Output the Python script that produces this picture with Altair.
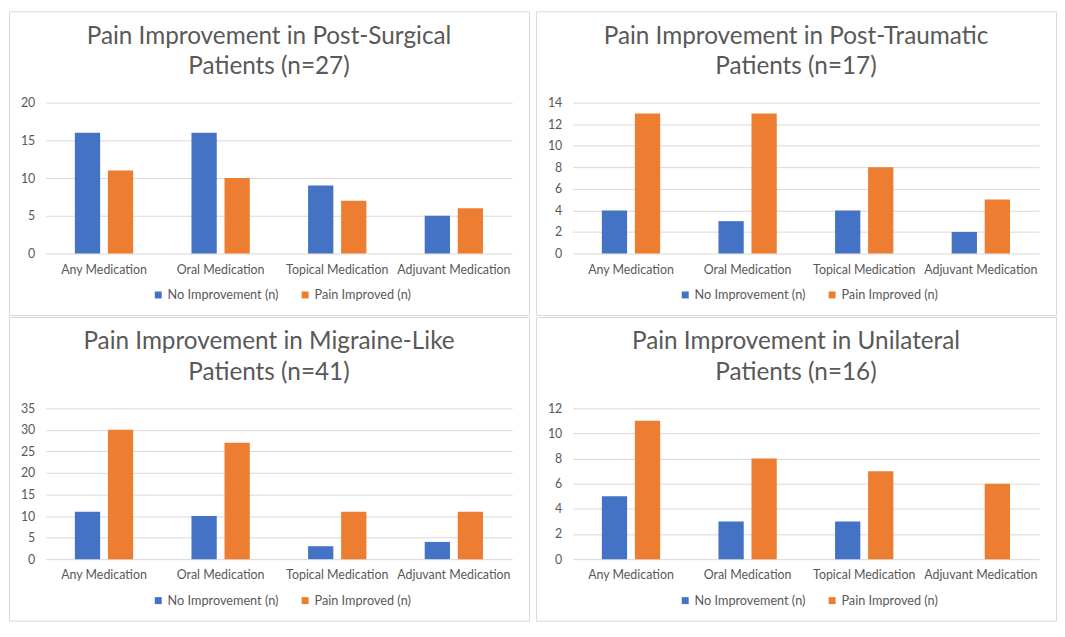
import altair as alt
import pandas as pd

# ---- data ----
categories = ["Any Medication", "Oral Medication", "Topical Medication", "Adjuvant Medication"]
series_names = ["No Improvement (n)", "Pain Improved (n)"]

title_surgical = ["Pain Improvement in Post-Surgical", "Patients (n=27)"]
title_traumatic = ["Pain Improvement in Post-Traumatic", "Patients (n=17)"]
title_migraine = ["Pain Improvement in Migraine-Like", "Patients (n=41)"]
title_unilateral = ["Pain Improvement in Unilateral", "Patients (n=16)"]

surgical_no = [16, 16, 9, 5]
surgical_yes = [11, 10, 7, 6]
traumatic_no = [4, 3, 4, 2]
traumatic_yes = [13, 13, 8, 5]
migraine_no = [11, 10, 3, 4]
migraine_yes = [30, 27, 11, 11]
unilateral_no = [5, 3, 3, 0]
unilateral_yes = [11, 8, 7, 6]

ticks_surgical = [0, 5, 10, 15, 20]
ticks_traumatic = [0, 2, 4, 6, 8, 10, 12, 14]
ticks_migraine = [0, 5, 10, 15, 20, 25, 30, 35]
ticks_unilateral = [0, 2, 4, 6, 8, 10, 12]

# ---- style / layout ----
BLUE = "#4472C4"
ORANGE = "#ED7D31"
TEXT = "#595959"
GRID = "#d9d9d9"
FONT = "Lato"

W, H = 524, 306
PL, PR, PT, PB = 37, 507, 92, 244


def panel(title, no_vals, yes_vals, ticks):
    df = pd.DataFrame({
        "category": categories * 2,
        "series": [series_names[0]] * len(categories) + [series_names[1]] * len(categories),
        "value": no_vals + yes_vals,
    })
    return alt.Chart(df).mark_bar().encode(
        x=alt.X(
            "category:N", sort=categories,
            scale=alt.Scale(range=[PL, PR], paddingInner=0.5, paddingOuter=0.25),
            axis=alt.Axis(title=None, labelAngle=0, offset=-(H - PB), domain=False,
                          ticks=False, tickSize=0, labelPadding=10, grid=False,
                          labelOverlap=False, labelLimit=200),
        ),
        xOffset=alt.XOffset("series:N", sort=series_names,
                            scale=alt.Scale(paddingInner=0.235)),
        y=alt.Y(
            "value:Q",
            scale=alt.Scale(domain=[0, ticks[-1]], range=[PB, PT], nice=False),
            axis=alt.Axis(title=None, values=ticks, offset=-PL, domain=False,
                          ticks=False, tickSize=0, labelPadding=11, grid=True,
                          gridColor=GRID, gridWidth=1),
        ),
        color=alt.Color(
            "series:N", sort=series_names, title=None,
            scale=alt.Scale(domain=series_names, range=[BLUE, ORANGE]),
            legend=alt.Legend(orient="none", legendX=144, legendY=279,
                              direction="horizontal", symbolType="square",
                              symbolSize=49, symbolStrokeWidth=0,
                              labelOffset=3, columnPadding=20),
        ),
    ).properties(
        width=W, height=H,
        title=alt.TitleParams(text=title, fontSize=24.5, font=FONT,
                              fontWeight="normal", color=TEXT, offset=-69,
                              lineHeight=31, anchor="middle"),
    )


charts = [
    panel(title_surgical, surgical_no, surgical_yes, ticks_surgical),
    panel(title_traumatic, traumatic_no, traumatic_yes, ticks_traumatic),
    panel(title_migraine, migraine_no, migraine_yes, ticks_migraine),
    panel(title_unilateral, unilateral_no, unilateral_yes, ticks_unilateral),
]

chart = alt.concat(*charts, columns=2, spacing={"row": 0, "column": 5}).resolve_scale(
    x="independent", y="independent", color="independent", xOffset="independent"
).resolve_legend(color="independent").properties(
    padding=0, background="white"
).configure_view(
    stroke=GRID, strokeWidth=1
).configure_axis(
    labelFont=FONT, labelFontSize=12.5, labelColor=TEXT
).configure_legend(
    labelFont=FONT, labelFontSize=12.8, labelColor=TEXT
)

chart.save("out.html", embed_options={"renderer": "svg", "actions": False})
